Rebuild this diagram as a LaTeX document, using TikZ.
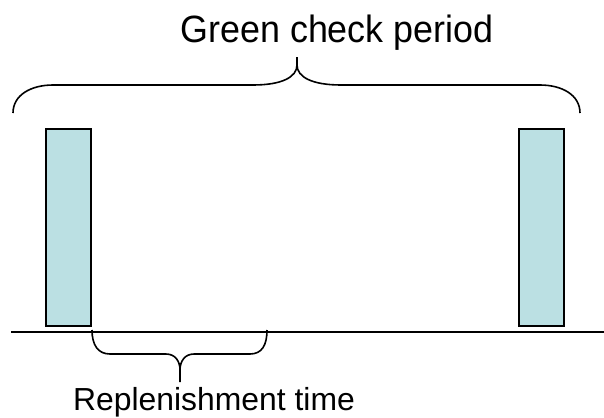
\documentclass[tikz,border=0pt]{standalone}
\usepackage{fontspec}
\setmainfont{Liberation Sans}
\usetikzlibrary{positioning}
\definecolor{stock}{RGB}{187,224,227}
\tikzset{
  bar/.style={draw=black,fill=stock,line width=1.8bp,inner sep=0pt,
    minimum width=45bp,minimum height=197bp},
  curly/.style={line width=1.6bp,line join=round},
  caption/.style={font=\fontsize{#1}{#1}\selectfont,inner sep=0pt,anchor=base},
}

\begin{document}
\begin{tikzpicture}[x=1bp,y=1bp]
  \useasboundingbox (0,0) rectangle (604,417);
  % time axis and the two green bars
  \coordinate (axis west) at (11,85.3);
  \coordinate (axis east) at (604,85.3);
  \node[bar] (first bar) at (68.2,189.5) {};
  \node[bar] (next bar) at (541.7,189.5) {};
  \draw[line width=1.6bp] (axis west) -- (axis east);
  % brace over the whole period
  \draw[curly] (13,304) .. controls (13,322) and (31,332) .. (53,332) -- (253,332)
    .. controls (282,332) and (297,340) .. (297,352) -- (297,360)
    (297,352) .. controls (297,340) and (312,332) .. (341,332) -- (540,332)
    .. controls (562,332) and (580,322) .. (580,304);
  \node[caption=36,yscale=1.06] (period) at (337,375) {Green check period};
  % brace under the gap after the first bar
  \draw[curly] (92,87) .. controls (92,72) and (98,63) .. (110,63) -- (166,63)
    .. controls (175,63) and (180,56) .. (180,47) -- (180,35)
    (180,47) .. controls (180,56) and (185,63) .. (194,63) -- (250,63)
    .. controls (262,63) and (267,72) .. (267,87);
  \node[caption=32] (replenish) at (214,7) {Replenishment time};
\end{tikzpicture}
\end{document}
